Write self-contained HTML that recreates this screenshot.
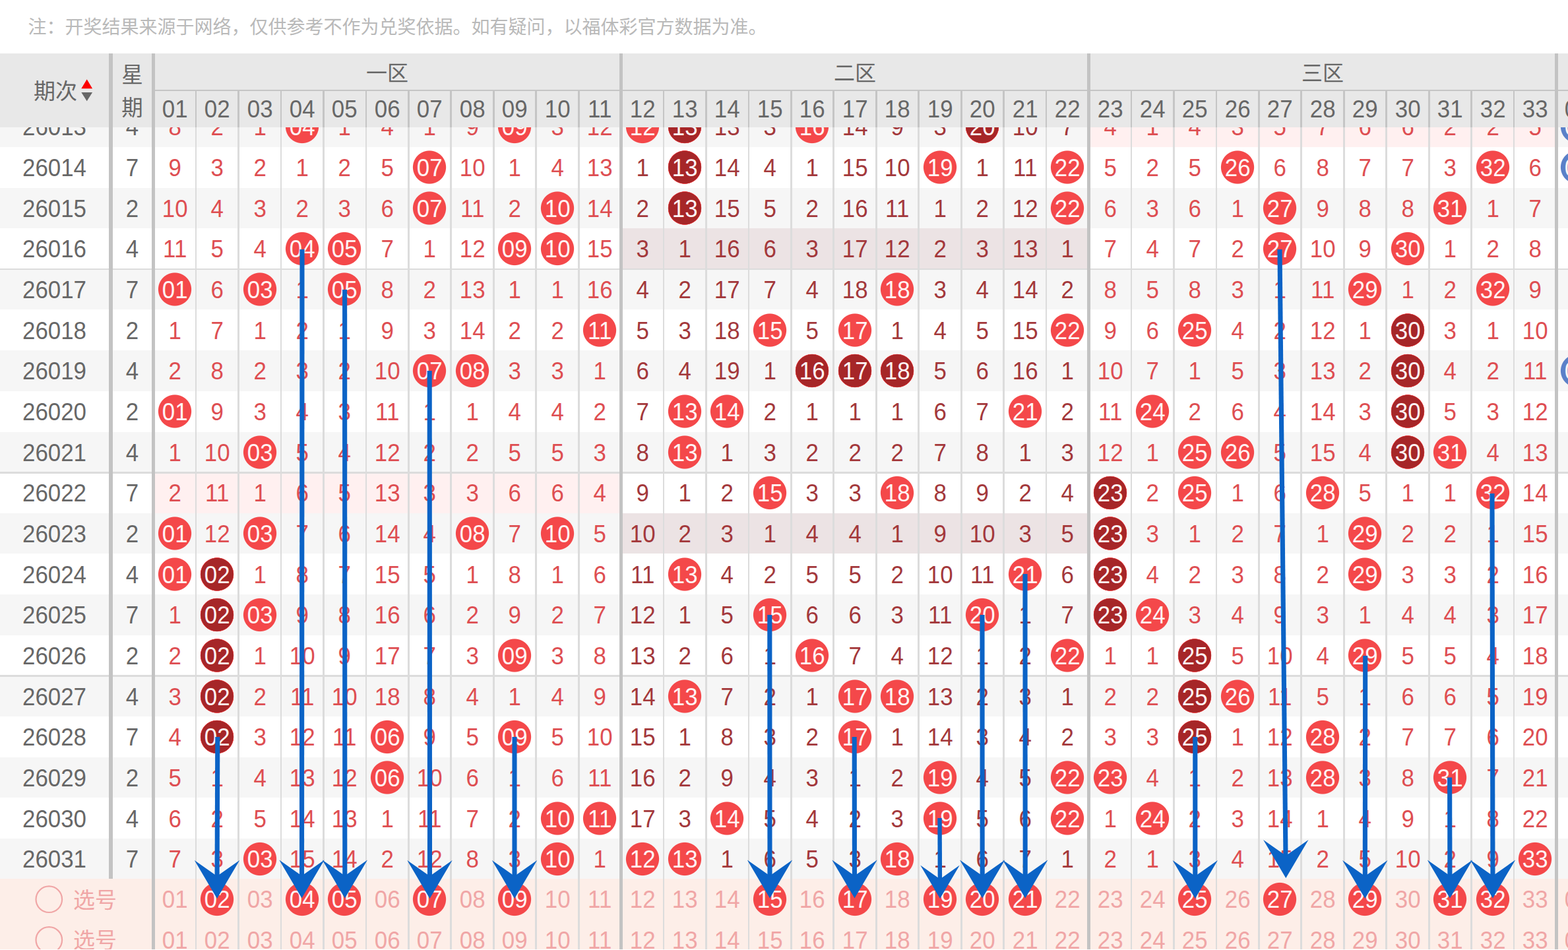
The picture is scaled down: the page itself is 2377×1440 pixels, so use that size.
<!DOCTYPE html>
<html><head><meta charset="utf-8"><title>trend</title>
<style>
html,body{margin:0;padding:0;background:#fff}
body{width:2377px;height:1440px;position:relative;overflow:hidden;font-family:"Liberation Sans",sans-serif}
div,i,b,u,s,svg{position:absolute;display:block}
i,b,u{font-style:normal;font-weight:normal;text-decoration:none;text-align:center;font-size:37.5px;transform:scaleX(.93)}
.r{left:0;width:2377px;height:61.67px}
.g{background:#f6f6f6}
.r i,.r b,.r u{top:0;height:61.67px;line-height:62.67px;width:64.45px}
.r b{color:#676767}
.r b.q{left:0;width:165px}
.r b.w{left:171px;width:59px}
.r i{color:#de4e52}
.r i.m{color:#a3383b}
.r i.h,.r i.d,.r i.e,.r u.h{color:#fff4f4}
.h{background:radial-gradient(ellipse 27.53px 25.6px at 50% 50%,#f4484a 96%,rgba(244,72,74,0) 100%)}
.d{background:radial-gradient(ellipse 27.53px 25.6px at 50% 50%,#a62628 95%,#f4484a 98%,rgba(244,72,74,0) 100%)}
.e{background:radial-gradient(ellipse 27.53px 25.6px at 50% 50%,#5b80c8 96%,rgba(91,128,200,0) 100%)}
.s{left:0;width:2377px;height:61.67px}
.r u{color:#f0a6a6}
.v{top:81px;width:2.8px;background:#dcdcdc;height:1359px}
.t{top:81px;background:#c3c3c3;height:1359px}
.hl{left:0;width:2377px;height:2.7px;background:#dcdcdc}
.z{height:61.67px}
#hd{left:0;top:81px;width:2377px;height:111.7px;background:#e8e8e8}
#hd b{top:58px;height:54px;line-height:53px;width:64.45px;color:#676767}
#hd s{top:57.4px;width:2.8px;height:54.3px;background:#c5c5c5}
#hd .t{top:0;height:111.7px}
.k1{left:232.6px}.k2{left:297.05px}.k3{left:361.5px}.k4{left:425.95px}.k5{left:490.4px}.k6{left:554.85px}.k7{left:619.3px}.k8{left:683.75px}.k9{left:748.2px}.k10{left:812.65px}.k11{left:877.1px}.k12{left:941.55px}.k13{left:1006px}.k14{left:1070.45px}.k15{left:1134.9px}.k16{left:1199.35px}.k17{left:1263.8px}.k18{left:1328.25px}.k19{left:1392.7px}.k20{left:1457.15px}.k21{left:1521.6px}.k22{left:1586.05px}.k23{left:1650.5px}.k24{left:1714.95px}.k25{left:1779.4px}.k26{left:1843.85px}.k27{left:1908.3px}.k28{left:1972.75px}.k29{left:2037.2px}.k30{left:2101.65px}.k31{left:2166.1px}.k32{left:2230.55px}.k33{left:2295px}.k34{left:2359.45px}
</style></head><body>
<svg style="left:0;top:0" width="1300" height="80" viewBox="0 0 1300 80"><text x="42.5" y="50.94" font-size="28" fill="#b9b9b9" font-family="&quot;Liberation Sans&quot;, &quot;Noto Sans CJK SC&quot;, sans-serif">注：开奖结果来源于网络，仅供参考不作为兑奖依据。如有疑问，以福体彩官方数据为准。</text></svg>
<div class="r g" style="top:161.17px"></div><div class="r" style="top:222.84px"></div><div class="r g" style="top:284.5px"></div><div class="r" style="top:346.17px"></div><div class="r g" style="top:407.84px"></div><div class="r" style="top:469.5px"></div><div class="r g" style="top:531.17px"></div><div class="r" style="top:592.84px"></div><div class="r g" style="top:654.51px"></div><div class="r" style="top:716.17px"></div><div class="r g" style="top:777.84px"></div><div class="r" style="top:839.51px"></div><div class="r g" style="top:901.17px"></div><div class="r" style="top:962.84px"></div><div class="r g" style="top:1024.51px"></div><div class="r" style="top:1086.17px"></div><div class="r g" style="top:1147.84px"></div><div class="r" style="top:1209.51px"></div><div class="r g" style="top:1271.18px"></div>
<div style="left:0;top:1332.1px;width:2377px;height:106.9px;background:#fdeee8"></div>
<div class="z" style="left:1653px;top:161.17px;width:704px;background:#fff0f0"></div><div class="z" style="left:944.2px;top:346.17px;width:703.8px;background:#ece3e4"></div><div class="z" style="left:235px;top:716.17px;width:704.2px;background:#fff0f0"></div><div class="z" style="left:944.2px;top:777.84px;width:703.8px;background:#ece3e4"></div>
<div class="hl" style="top:406.54px"></div><div class="hl" style="top:714.87px"></div><div class="hl" style="top:1023.21px"></div>
<div class="v" style="left:295.7px"></div><div class="v" style="left:360.15px"></div><div class="v" style="left:424.6px"></div><div class="v" style="left:489.05px"></div><div class="v" style="left:553.5px"></div><div class="v" style="left:617.95px"></div><div class="v" style="left:682.4px"></div><div class="v" style="left:746.85px"></div><div class="v" style="left:811.3px"></div><div class="v" style="left:875.75px"></div><div class="v" style="left:1004.65px"></div><div class="v" style="left:1069.1px"></div><div class="v" style="left:1133.55px"></div><div class="v" style="left:1198px"></div><div class="v" style="left:1262.45px"></div><div class="v" style="left:1326.9px"></div><div class="v" style="left:1391.35px"></div><div class="v" style="left:1455.8px"></div><div class="v" style="left:1520.25px"></div><div class="v" style="left:1584.7px"></div><div class="v" style="left:1713.6px"></div><div class="v" style="left:1778.05px"></div><div class="v" style="left:1842.5px"></div><div class="v" style="left:1906.95px"></div><div class="v" style="left:1971.4px"></div><div class="v" style="left:2035.85px"></div><div class="v" style="left:2100.3px"></div><div class="v" style="left:2164.75px"></div><div class="v" style="left:2229.2px"></div><div class="v" style="left:2293.65px"></div><div class="t" style="left:165.1px;width:5.8px;height:1251.1px"></div><div class="t" style="left:229.95px;width:5.1px"></div><div class="t" style="left:938.9px;width:5.1px"></div><div class="t" style="left:1647.85px;width:5.1px"></div><div class="t" style="left:2356.8px;width:5.1px"></div>
<div class="r" style="top:161.17px"><b class="q">26013</b><b class="w">4</b><i class="k1">8</i><i class="k2">2</i><i class="k3">1</i><i class="k4 h">04</i><i class="k5">1</i><i class="k6">4</i><i class="k7">1</i><i class="k8">9</i><i class="k9 h">09</i><i class="k10">3</i><i class="k11">12</i><i class="k12 h">12</i><i class="k13 d">13</i><i class="k14 m">13</i><i class="k15 m">3</i><i class="k16 h">16</i><i class="k17 m">14</i><i class="k18 m">9</i><i class="k19 m">3</i><i class="k20 d">20</i><i class="k21 m">10</i><i class="k22 m">7</i><i class="k23">4</i><i class="k24">1</i><i class="k25">4</i><i class="k26">3</i><i class="k27">5</i><i class="k28">7</i><i class="k29">6</i><i class="k30">6</i><i class="k31">2</i><i class="k32">2</i><i class="k33">5</i><i class="k34 e">01</i></div>
<div class="r" style="top:222.84px"><b class="q">26014</b><b class="w">7</b><i class="k1">9</i><i class="k2">3</i><i class="k3">2</i><i class="k4">1</i><i class="k5">2</i><i class="k6">5</i><i class="k7 h">07</i><i class="k8">10</i><i class="k9">1</i><i class="k10">4</i><i class="k11">13</i><i class="k12 m">1</i><i class="k13 d">13</i><i class="k14 m">14</i><i class="k15 m">4</i><i class="k16 m">1</i><i class="k17 m">15</i><i class="k18 m">10</i><i class="k19 h">19</i><i class="k20 m">1</i><i class="k21 m">11</i><i class="k22 h">22</i><i class="k23">5</i><i class="k24">2</i><i class="k25">5</i><i class="k26 h">26</i><i class="k27">6</i><i class="k28">8</i><i class="k29">7</i><i class="k30">7</i><i class="k31">3</i><i class="k32 h">32</i><i class="k33">6</i><i class="k34 e">01</i></div>
<div class="r" style="top:284.5px"><b class="q">26015</b><b class="w">2</b><i class="k1">10</i><i class="k2">4</i><i class="k3">3</i><i class="k4">2</i><i class="k5">3</i><i class="k6">6</i><i class="k7 h">07</i><i class="k8">11</i><i class="k9">2</i><i class="k10 h">10</i><i class="k11">14</i><i class="k12 m">2</i><i class="k13 d">13</i><i class="k14 m">15</i><i class="k15 m">5</i><i class="k16 m">2</i><i class="k17 m">16</i><i class="k18 m">11</i><i class="k19 m">1</i><i class="k20 m">2</i><i class="k21 m">12</i><i class="k22 h">22</i><i class="k23">6</i><i class="k24">3</i><i class="k25">6</i><i class="k26">1</i><i class="k27 h">27</i><i class="k28">9</i><i class="k29">8</i><i class="k30">8</i><i class="k31 h">31</i><i class="k32">1</i><i class="k33">7</i></div>
<div class="r" style="top:346.17px"><b class="q">26016</b><b class="w">4</b><i class="k1">11</i><i class="k2">5</i><i class="k3">4</i><i class="k4 h">04</i><i class="k5 h">05</i><i class="k6">7</i><i class="k7">1</i><i class="k8">12</i><i class="k9 h">09</i><i class="k10 h">10</i><i class="k11">15</i><i class="k12 m">3</i><i class="k13 m">1</i><i class="k14 m">16</i><i class="k15 m">6</i><i class="k16 m">3</i><i class="k17 m">17</i><i class="k18 m">12</i><i class="k19 m">2</i><i class="k20 m">3</i><i class="k21 m">13</i><i class="k22 m">1</i><i class="k23">7</i><i class="k24">4</i><i class="k25">7</i><i class="k26">2</i><i class="k27 h">27</i><i class="k28">10</i><i class="k29">9</i><i class="k30 h">30</i><i class="k31">1</i><i class="k32">2</i><i class="k33">8</i></div>
<div class="r" style="top:407.84px"><b class="q">26017</b><b class="w">7</b><i class="k1 h">01</i><i class="k2">6</i><i class="k3 h">03</i><i class="k4">1</i><i class="k5 h">05</i><i class="k6">8</i><i class="k7">2</i><i class="k8">13</i><i class="k9">1</i><i class="k10">1</i><i class="k11">16</i><i class="k12 m">4</i><i class="k13 m">2</i><i class="k14 m">17</i><i class="k15 m">7</i><i class="k16 m">4</i><i class="k17 m">18</i><i class="k18 h">18</i><i class="k19 m">3</i><i class="k20 m">4</i><i class="k21 m">14</i><i class="k22 m">2</i><i class="k23">8</i><i class="k24">5</i><i class="k25">8</i><i class="k26">3</i><i class="k27">1</i><i class="k28">11</i><i class="k29 h">29</i><i class="k30">1</i><i class="k31">2</i><i class="k32 h">32</i><i class="k33">9</i></div>
<div class="r" style="top:469.5px"><b class="q">26018</b><b class="w">2</b><i class="k1">1</i><i class="k2">7</i><i class="k3">1</i><i class="k4">2</i><i class="k5">1</i><i class="k6">9</i><i class="k7">3</i><i class="k8">14</i><i class="k9">2</i><i class="k10">2</i><i class="k11 h">11</i><i class="k12 m">5</i><i class="k13 m">3</i><i class="k14 m">18</i><i class="k15 h">15</i><i class="k16 m">5</i><i class="k17 h">17</i><i class="k18 m">1</i><i class="k19 m">4</i><i class="k20 m">5</i><i class="k21 m">15</i><i class="k22 h">22</i><i class="k23">9</i><i class="k24">6</i><i class="k25 h">25</i><i class="k26">4</i><i class="k27">2</i><i class="k28">12</i><i class="k29">1</i><i class="k30 d">30</i><i class="k31">3</i><i class="k32">1</i><i class="k33">10</i></div>
<div class="r" style="top:531.17px"><b class="q">26019</b><b class="w">4</b><i class="k1">2</i><i class="k2">8</i><i class="k3">2</i><i class="k4">3</i><i class="k5">2</i><i class="k6">10</i><i class="k7 h">07</i><i class="k8 h">08</i><i class="k9">3</i><i class="k10">3</i><i class="k11">1</i><i class="k12 m">6</i><i class="k13 m">4</i><i class="k14 m">19</i><i class="k15 m">1</i><i class="k16 d">16</i><i class="k17 d">17</i><i class="k18 d">18</i><i class="k19 m">5</i><i class="k20 m">6</i><i class="k21 m">16</i><i class="k22 m">1</i><i class="k23">10</i><i class="k24">7</i><i class="k25">1</i><i class="k26">5</i><i class="k27">3</i><i class="k28">13</i><i class="k29">2</i><i class="k30 d">30</i><i class="k31">4</i><i class="k32">2</i><i class="k33">11</i><i class="k34 e">01</i></div>
<div class="r" style="top:592.84px"><b class="q">26020</b><b class="w">2</b><i class="k1 h">01</i><i class="k2">9</i><i class="k3">3</i><i class="k4">4</i><i class="k5">3</i><i class="k6">11</i><i class="k7">1</i><i class="k8">1</i><i class="k9">4</i><i class="k10">4</i><i class="k11">2</i><i class="k12 m">7</i><i class="k13 h">13</i><i class="k14 h">14</i><i class="k15 m">2</i><i class="k16 m">1</i><i class="k17 m">1</i><i class="k18 m">1</i><i class="k19 m">6</i><i class="k20 m">7</i><i class="k21 h">21</i><i class="k22 m">2</i><i class="k23">11</i><i class="k24 h">24</i><i class="k25">2</i><i class="k26">6</i><i class="k27">4</i><i class="k28">14</i><i class="k29">3</i><i class="k30 d">30</i><i class="k31">5</i><i class="k32">3</i><i class="k33">12</i></div>
<div class="r" style="top:654.51px"><b class="q">26021</b><b class="w">4</b><i class="k1">1</i><i class="k2">10</i><i class="k3 h">03</i><i class="k4">5</i><i class="k5">4</i><i class="k6">12</i><i class="k7">2</i><i class="k8">2</i><i class="k9">5</i><i class="k10">5</i><i class="k11">3</i><i class="k12 m">8</i><i class="k13 h">13</i><i class="k14 m">1</i><i class="k15 m">3</i><i class="k16 m">2</i><i class="k17 m">2</i><i class="k18 m">2</i><i class="k19 m">7</i><i class="k20 m">8</i><i class="k21 m">1</i><i class="k22 m">3</i><i class="k23">12</i><i class="k24">1</i><i class="k25 h">25</i><i class="k26 h">26</i><i class="k27">5</i><i class="k28">15</i><i class="k29">4</i><i class="k30 d">30</i><i class="k31 h">31</i><i class="k32">4</i><i class="k33">13</i></div>
<div class="r" style="top:716.17px"><b class="q">26022</b><b class="w">7</b><i class="k1">2</i><i class="k2">11</i><i class="k3">1</i><i class="k4">6</i><i class="k5">5</i><i class="k6">13</i><i class="k7">3</i><i class="k8">3</i><i class="k9">6</i><i class="k10">6</i><i class="k11">4</i><i class="k12 m">9</i><i class="k13 m">1</i><i class="k14 m">2</i><i class="k15 h">15</i><i class="k16 m">3</i><i class="k17 m">3</i><i class="k18 h">18</i><i class="k19 m">8</i><i class="k20 m">9</i><i class="k21 m">2</i><i class="k22 m">4</i><i class="k23 d">23</i><i class="k24">2</i><i class="k25 h">25</i><i class="k26">1</i><i class="k27">6</i><i class="k28 h">28</i><i class="k29">5</i><i class="k30">1</i><i class="k31">1</i><i class="k32 h">32</i><i class="k33">14</i></div>
<div class="r" style="top:777.84px"><b class="q">26023</b><b class="w">2</b><i class="k1 h">01</i><i class="k2">12</i><i class="k3 h">03</i><i class="k4">7</i><i class="k5">6</i><i class="k6">14</i><i class="k7">4</i><i class="k8 h">08</i><i class="k9">7</i><i class="k10 h">10</i><i class="k11">5</i><i class="k12 m">10</i><i class="k13 m">2</i><i class="k14 m">3</i><i class="k15 m">1</i><i class="k16 m">4</i><i class="k17 m">4</i><i class="k18 m">1</i><i class="k19 m">9</i><i class="k20 m">10</i><i class="k21 m">3</i><i class="k22 m">5</i><i class="k23 d">23</i><i class="k24">3</i><i class="k25">1</i><i class="k26">2</i><i class="k27">7</i><i class="k28">1</i><i class="k29 h">29</i><i class="k30">2</i><i class="k31">2</i><i class="k32">1</i><i class="k33">15</i></div>
<div class="r" style="top:839.51px"><b class="q">26024</b><b class="w">4</b><i class="k1 h">01</i><i class="k2 d">02</i><i class="k3">1</i><i class="k4">8</i><i class="k5">7</i><i class="k6">15</i><i class="k7">5</i><i class="k8">1</i><i class="k9">8</i><i class="k10">1</i><i class="k11">6</i><i class="k12 m">11</i><i class="k13 h">13</i><i class="k14 m">4</i><i class="k15 m">2</i><i class="k16 m">5</i><i class="k17 m">5</i><i class="k18 m">2</i><i class="k19 m">10</i><i class="k20 m">11</i><i class="k21 h">21</i><i class="k22 m">6</i><i class="k23 d">23</i><i class="k24">4</i><i class="k25">2</i><i class="k26">3</i><i class="k27">8</i><i class="k28">2</i><i class="k29 h">29</i><i class="k30">3</i><i class="k31">3</i><i class="k32">2</i><i class="k33">16</i></div>
<div class="r" style="top:901.17px"><b class="q">26025</b><b class="w">7</b><i class="k1">1</i><i class="k2 d">02</i><i class="k3 h">03</i><i class="k4">9</i><i class="k5">8</i><i class="k6">16</i><i class="k7">6</i><i class="k8">2</i><i class="k9">9</i><i class="k10">2</i><i class="k11">7</i><i class="k12 m">12</i><i class="k13 m">1</i><i class="k14 m">5</i><i class="k15 h">15</i><i class="k16 m">6</i><i class="k17 m">6</i><i class="k18 m">3</i><i class="k19 m">11</i><i class="k20 h">20</i><i class="k21 m">1</i><i class="k22 m">7</i><i class="k23 d">23</i><i class="k24 h">24</i><i class="k25">3</i><i class="k26">4</i><i class="k27">9</i><i class="k28">3</i><i class="k29">1</i><i class="k30">4</i><i class="k31">4</i><i class="k32">3</i><i class="k33">17</i></div>
<div class="r" style="top:962.84px"><b class="q">26026</b><b class="w">2</b><i class="k1">2</i><i class="k2 d">02</i><i class="k3">1</i><i class="k4">10</i><i class="k5">9</i><i class="k6">17</i><i class="k7">7</i><i class="k8">3</i><i class="k9 h">09</i><i class="k10">3</i><i class="k11">8</i><i class="k12 m">13</i><i class="k13 m">2</i><i class="k14 m">6</i><i class="k15 m">1</i><i class="k16 h">16</i><i class="k17 m">7</i><i class="k18 m">4</i><i class="k19 m">12</i><i class="k20 m">1</i><i class="k21 m">2</i><i class="k22 h">22</i><i class="k23">1</i><i class="k24">1</i><i class="k25 d">25</i><i class="k26">5</i><i class="k27">10</i><i class="k28">4</i><i class="k29 h">29</i><i class="k30">5</i><i class="k31">5</i><i class="k32">4</i><i class="k33">18</i></div>
<div class="r" style="top:1024.51px"><b class="q">26027</b><b class="w">4</b><i class="k1">3</i><i class="k2 d">02</i><i class="k3">2</i><i class="k4">11</i><i class="k5">10</i><i class="k6">18</i><i class="k7">8</i><i class="k8">4</i><i class="k9">1</i><i class="k10">4</i><i class="k11">9</i><i class="k12 m">14</i><i class="k13 h">13</i><i class="k14 m">7</i><i class="k15 m">2</i><i class="k16 m">1</i><i class="k17 h">17</i><i class="k18 h">18</i><i class="k19 m">13</i><i class="k20 m">2</i><i class="k21 m">3</i><i class="k22 m">1</i><i class="k23">2</i><i class="k24">2</i><i class="k25 d">25</i><i class="k26 h">26</i><i class="k27">11</i><i class="k28">5</i><i class="k29">1</i><i class="k30">6</i><i class="k31">6</i><i class="k32">5</i><i class="k33">19</i></div>
<div class="r" style="top:1086.17px"><b class="q">26028</b><b class="w">7</b><i class="k1">4</i><i class="k2 d">02</i><i class="k3">3</i><i class="k4">12</i><i class="k5">11</i><i class="k6 h">06</i><i class="k7">9</i><i class="k8">5</i><i class="k9 h">09</i><i class="k10">5</i><i class="k11">10</i><i class="k12 m">15</i><i class="k13 m">1</i><i class="k14 m">8</i><i class="k15 m">3</i><i class="k16 m">2</i><i class="k17 h">17</i><i class="k18 m">1</i><i class="k19 m">14</i><i class="k20 m">3</i><i class="k21 m">4</i><i class="k22 m">2</i><i class="k23">3</i><i class="k24">3</i><i class="k25 d">25</i><i class="k26">1</i><i class="k27">12</i><i class="k28 h">28</i><i class="k29">2</i><i class="k30">7</i><i class="k31">7</i><i class="k32">6</i><i class="k33">20</i></div>
<div class="r" style="top:1147.84px"><b class="q">26029</b><b class="w">2</b><i class="k1">5</i><i class="k2">1</i><i class="k3">4</i><i class="k4">13</i><i class="k5">12</i><i class="k6 h">06</i><i class="k7">10</i><i class="k8">6</i><i class="k9">1</i><i class="k10">6</i><i class="k11">11</i><i class="k12 m">16</i><i class="k13 m">2</i><i class="k14 m">9</i><i class="k15 m">4</i><i class="k16 m">3</i><i class="k17 m">1</i><i class="k18 m">2</i><i class="k19 h">19</i><i class="k20 m">4</i><i class="k21 m">5</i><i class="k22 h">22</i><i class="k23 h">23</i><i class="k24">4</i><i class="k25">1</i><i class="k26">2</i><i class="k27">13</i><i class="k28 h">28</i><i class="k29">3</i><i class="k30">8</i><i class="k31 h">31</i><i class="k32">7</i><i class="k33">21</i></div>
<div class="r" style="top:1209.51px"><b class="q">26030</b><b class="w">4</b><i class="k1">6</i><i class="k2">2</i><i class="k3">5</i><i class="k4">14</i><i class="k5">13</i><i class="k6">1</i><i class="k7">11</i><i class="k8">7</i><i class="k9">2</i><i class="k10 h">10</i><i class="k11 h">11</i><i class="k12 m">17</i><i class="k13 m">3</i><i class="k14 h">14</i><i class="k15 m">5</i><i class="k16 m">4</i><i class="k17 m">2</i><i class="k18 m">3</i><i class="k19 h">19</i><i class="k20 m">5</i><i class="k21 m">6</i><i class="k22 h">22</i><i class="k23">1</i><i class="k24 h">24</i><i class="k25">2</i><i class="k26">3</i><i class="k27">14</i><i class="k28">1</i><i class="k29">4</i><i class="k30">9</i><i class="k31">1</i><i class="k32">8</i><i class="k33">22</i></div>
<div class="r" style="top:1271.18px"><b class="q">26031</b><b class="w">7</b><i class="k1">7</i><i class="k2">3</i><i class="k3 h">03</i><i class="k4">15</i><i class="k5">14</i><i class="k6">2</i><i class="k7">12</i><i class="k8">8</i><i class="k9">3</i><i class="k10 h">10</i><i class="k11">1</i><i class="k12 h">12</i><i class="k13 h">13</i><i class="k14 m">1</i><i class="k15 m">6</i><i class="k16 m">5</i><i class="k17 m">3</i><i class="k18 h">18</i><i class="k19 m">1</i><i class="k20 m">6</i><i class="k21 m">7</i><i class="k22 m">1</i><i class="k23">2</i><i class="k24">1</i><i class="k25">3</i><i class="k26">4</i><i class="k27">15</i><i class="k28">2</i><i class="k29">5</i><i class="k30">10</i><i class="k31">2</i><i class="k32">9</i><i class="k33 h">33</i></div>
<div class="r" style="top:1332.1px"><u class="k1">01</u><u class="k2 h">02</u><u class="k3">03</u><u class="k4 h">04</u><u class="k5 h">05</u><u class="k6">06</u><u class="k7 h">07</u><u class="k8">08</u><u class="k9 h">09</u><u class="k10">10</u><u class="k11">11</u><u class="k12">12</u><u class="k13">13</u><u class="k14">14</u><u class="k15 h">15</u><u class="k16">16</u><u class="k17 h">17</u><u class="k18">18</u><u class="k19 h">19</u><u class="k20 h">20</u><u class="k21 h">21</u><u class="k22">22</u><u class="k23">23</u><u class="k24">24</u><u class="k25 h">25</u><u class="k26">26</u><u class="k27 h">27</u><u class="k28">28</u><u class="k29 h">29</u><u class="k30">30</u><u class="k31 h">31</u><u class="k32 h">32</u><u class="k33">33</u><u class="k34">01</u></div>
<div class="r" style="top:1393.77px"><u class="k1">01</u><u class="k2">02</u><u class="k3">03</u><u class="k4">04</u><u class="k5">05</u><u class="k6">06</u><u class="k7">07</u><u class="k8">08</u><u class="k9">09</u><u class="k10">10</u><u class="k11">11</u><u class="k12">12</u><u class="k13">13</u><u class="k14">14</u><u class="k15">15</u><u class="k16">16</u><u class="k17">17</u><u class="k18">18</u><u class="k19">19</u><u class="k20">20</u><u class="k21">21</u><u class="k22">22</u><u class="k23">23</u><u class="k24">24</u><u class="k25">25</u><u class="k26">26</u><u class="k27">27</u><u class="k28">28</u><u class="k29">29</u><u class="k30">30</u><u class="k31">31</u><u class="k32">32</u><u class="k33">33</u><u class="k34">01</u></div>
<svg style="left:0;top:1332.1px" width="230" height="107.9" viewBox="0 0 230 107.9"><g transform="translate(0 31.2)"><circle cx="74.3" cy="0" r="19.8" fill="none" stroke="#f0a6a6" stroke-width="2.2"/><text x="111" y="12.54" font-size="33" fill="#f0a6a6" font-family="&quot;Liberation Sans&quot;, &quot;Noto Sans CJK SC&quot;, sans-serif">选号</text></g><g transform="translate(0 92.87)"><circle cx="74.3" cy="0" r="19.8" fill="none" stroke="#f0a6a6" stroke-width="2.2"/><text x="111" y="12.54" font-size="33" fill="#f0a6a6" font-family="&quot;Liberation Sans&quot;, &quot;Noto Sans CJK SC&quot;, sans-serif">选号</text></g></svg>
<div style="left:0;top:1439px;width:2377px;height:1px;background:#fff"></div>
<div id="hd"><b class="k1">01</b><b class="k2">02</b><b class="k3">03</b><b class="k4">04</b><b class="k5">05</b><b class="k6">06</b><b class="k7">07</b><b class="k8">08</b><b class="k9">09</b><b class="k10">10</b><b class="k11">11</b><b class="k12">12</b><b class="k13">13</b><b class="k14">14</b><b class="k15">15</b><b class="k16">16</b><b class="k17">17</b><b class="k18">18</b><b class="k19">19</b><b class="k20">20</b><b class="k21">21</b><b class="k22">22</b><b class="k23">23</b><b class="k24">24</b><b class="k25">25</b><b class="k26">26</b><b class="k27">27</b><b class="k28">28</b><b class="k29">29</b><b class="k30">30</b><b class="k31">31</b><b class="k32">32</b><b class="k33">33</b><b class="k34">01</b><s style="left:295.7px"></s><s style="left:360.15px"></s><s style="left:424.6px"></s><s style="left:489.05px"></s><s style="left:553.5px"></s><s style="left:617.95px"></s><s style="left:682.4px"></s><s style="left:746.85px"></s><s style="left:811.3px"></s><s style="left:875.75px"></s><s style="left:1004.65px"></s><s style="left:1069.1px"></s><s style="left:1133.55px"></s><s style="left:1198px"></s><s style="left:1262.45px"></s><s style="left:1326.9px"></s><s style="left:1391.35px"></s><s style="left:1455.8px"></s><s style="left:1520.25px"></s><s style="left:1584.7px"></s><s style="left:1713.6px"></s><s style="left:1778.05px"></s><s style="left:1842.5px"></s><s style="left:1906.95px"></s><s style="left:1971.4px"></s><s style="left:2035.85px"></s><s style="left:2100.3px"></s><s style="left:2164.75px"></s><s style="left:2229.2px"></s><s style="left:2293.65px"></s><s style="left:235px;top:54.7px;width:2142px;height:2.7px"></s><div class="t" style="left:165.1px;width:5.8px"></div><div class="t" style="left:229.95px;width:5.1px"></div><div class="t" style="left:938.9px;width:5.1px"></div><div class="t" style="left:1647.85px;width:5.1px"></div><div class="t" style="left:2356.8px;width:5.1px"></div><svg style="left:0;top:0" width="2377" height="112" viewBox="0 81 2377 112"><g fill="#676767" font-family="&quot;Liberation Sans&quot;, &quot;Noto Sans CJK SC&quot;, sans-serif"><text x="51" y="149.74" font-size="33">期次</text><text x="184.25" y="124.55" font-size="32.5">星</text><text x="184.25" y="175.05" font-size="32.5">期</text><text x="555" y="121.76" font-size="32">一区</text><text x="1264" y="121.76" font-size="32">二区</text><text x="1973" y="121.76" font-size="32">三区</text></g><path fill="#fc0000" d="M123.3 134.2 131.7 120.2 140.1 134.2z"/><path fill="#676767" d="M123.3 140 131.7 153.2 140.1 140z"/></svg></div>
<svg style="left:0;top:0" width="2377" height="1440" viewBox="0 0 2377 1440" fill="#0b63c6" stroke="#0b63c6"><path d="M329.8 1117L329.1 1332" stroke-width="7.1" fill="none"/><path stroke="none" d="M329 1362L294.8 1304L329 1328L363.2 1304z"/><path d="M458 378L457.52 1331.5" stroke-width="7.1" fill="none"/><path stroke="none" d="M457.5 1361.5L423.3 1303.5L457.5 1327.5L491.7 1303.5z"/><path d="M522.6 439L522.79 1331.5" stroke-width="7.1" fill="none"/><path stroke="none" d="M522.8 1361.5L488.6 1303.5L522.8 1327.5L557 1303.5z"/><path d="M651.2 562L651.49 1332" stroke-width="7.1" fill="none"/><path stroke="none" d="M651.5 1362L617.3 1304L651.5 1328L685.7 1304z"/><path d="M780 1117L780 1332" stroke-width="7.1" fill="none"/><path stroke="none" d="M780 1362L745.8 1304L780 1328L814.2 1304z"/><path d="M1166.8 932L1166.99 1331.5" stroke-width="7.1" fill="none"/><path stroke="none" d="M1167 1361.5L1132.8 1303.5L1167 1327.5L1201.2 1303.5z"/><path d="M1295.2 1117L1295.46 1331.5" stroke-width="7.1" fill="none"/><path stroke="none" d="M1295.5 1361.5L1261.3 1303.5L1295.5 1327.5L1329.7 1303.5z"/><path d="M1424.5 1240L1424.9 1336.42" stroke-width="6.39" fill="none"/><path stroke="none" d="M1425 1362L1395.25 1311.54L1425 1332.42L1454.75 1311.54z"/><path d="M1489 932L1489.19 1331.5" stroke-width="7.1" fill="none"/><path stroke="none" d="M1489.2 1361.5L1455 1303.5L1489.2 1327.5L1523.4 1303.5z"/><path d="M1554 870L1554.19 1331.5" stroke-width="7.1" fill="none"/><path stroke="none" d="M1554.2 1361.5L1520 1303.5L1554.2 1327.5L1588.4 1303.5z"/><path d="M1811.8 1117L1811.8 1332" stroke-width="7.1" fill="none"/><path stroke="none" d="M1811.8 1362L1777.6 1304L1811.8 1328L1846 1304z"/><path d="M1940 378L1949.01 1301" stroke-width="7.1" fill="none"/><path stroke="none" d="M1949.3 1331L1915.1 1273L1949.3 1297L1983.5 1273z"/><path d="M2069.7 994L2069.33 1332" stroke-width="7.1" fill="none"/><path stroke="none" d="M2069.3 1362L2035.1 1304L2069.3 1328L2103.5 1304z"/><path d="M2197.6 1178.6L2197.93 1331.5" stroke-width="7.1" fill="none"/><path stroke="none" d="M2198 1361.5L2163.8 1303.5L2198 1327.5L2232.2 1303.5z"/><path d="M2262 748L2262.95 1331.5" stroke-width="7.1" fill="none"/><path stroke="none" d="M2263 1361.5L2228.8 1303.5L2263 1327.5L2297.2 1303.5z"/></svg>
</body></html>
